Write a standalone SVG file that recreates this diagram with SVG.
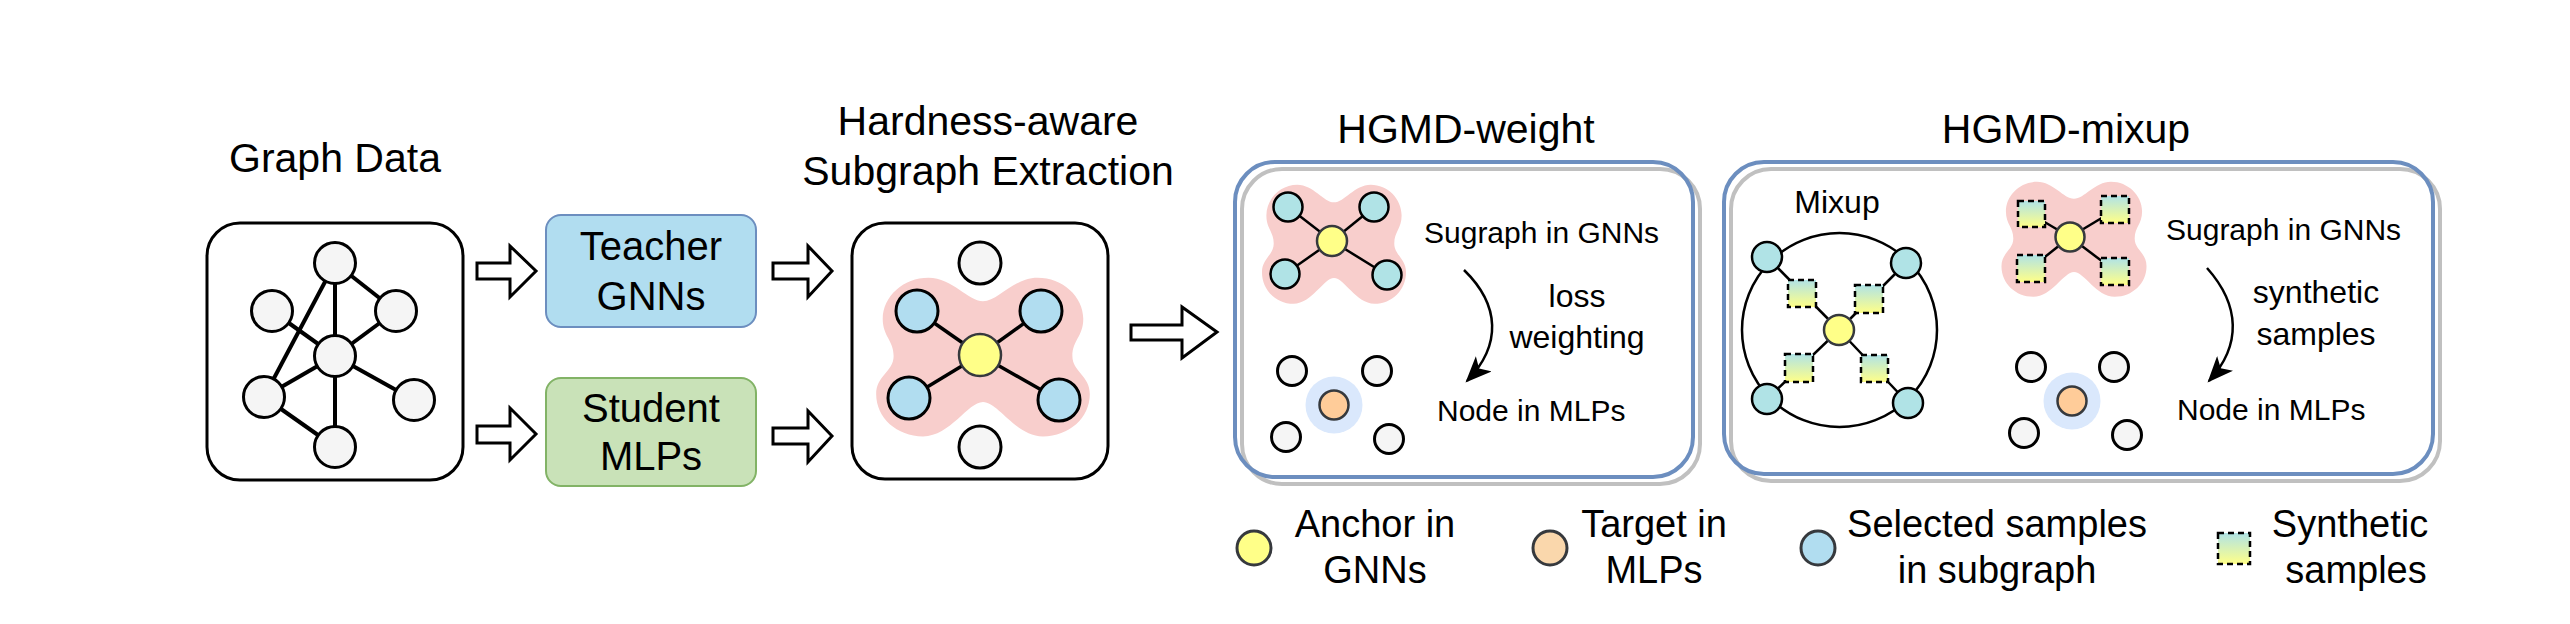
<svg xmlns="http://www.w3.org/2000/svg" width="2570" height="624" viewBox="0 0 2570 624">
<style>
text{font-family:"Liberation Sans",Arial,sans-serif;fill:#000}
.h{font-size:41px;text-anchor:middle}
.m{font-size:40px;text-anchor:middle}
.s{font-size:30px}
.c{font-size:32px;text-anchor:middle}
.lg{font-size:38px;text-anchor:middle}
.frame{fill:none;stroke:#000;stroke-width:3}
.gn{fill:#f5f5f5;stroke:#000;stroke-width:3}
.bn{fill:#b1ddf0;stroke:#000;stroke-width:3}
.tn{fill:#b0e3e6;stroke:#000;stroke-width:2.5}
.yn{fill:#ffff88;stroke:#36393d;stroke-width:2.5}
.on{fill:#ffcc99;stroke:#36393d;stroke-width:2.5}
.halo{fill:#dae8fc}
.blob{fill:#f8cecc}
.e4{stroke:#000;stroke-width:4;fill:none}
.e3{stroke:#000;stroke-width:3.5;fill:none}
.e2{stroke:#000;stroke-width:2.5;fill:none}
.barrow{fill:#fff;stroke:#000;stroke-width:3;stroke-linejoin:miter}
.sq{fill:url(#sg);stroke:#000;stroke-width:2.5;stroke-dasharray:6 4}
.shadow{fill:none;stroke:#c0c0c0;stroke-width:4}
.outer{fill:none;stroke:#6c8ebf;stroke-width:4}
.curve{fill:none;stroke:#000;stroke-width:2.5}
</style>
<defs>
<linearGradient id="sg" x1="0" y1="0" x2="0" y2="1">
<stop offset="0" stop-color="#b0e3e6"/>
<stop offset="1" stop-color="#ffff88"/>
</linearGradient>
<path id="blob" d="M 0,-58 C 14,-58 28,-82 50,-82 C 73,-82 92,-63 92,-40 C 92,-22 82,-18 82,-2 C 82,14 98,18 98,37 C 98,61 79,80 55,80 C 30,80 14,45 0,45 C -14,45 -30,80 -55,80 C -79,80 -98,61 -98,37 C -98,18 -82,14 -82,-2 C -82,-18 -92,-22 -92,-40 C -92,-63 -73,-82 -50,-82 C -28,-82 -14,-58 0,-58 Z"/>
<marker id="ah" viewBox="0 0 12 10" refX="11" refY="5" markerUnits="userSpaceOnUse" markerWidth="26" markerHeight="22" orient="auto">
<path d="M0,0 L12,5 L0,10 L3,5 Z" fill="#000"/>
</marker>
</defs>

<rect width="2570" height="624" fill="#fff"/>

<!-- Graph Data -->
<g id="graph-data">
<text class="h" x="335" y="172">Graph Data</text>
<rect class="frame" x="207" y="223" width="256" height="257" rx="33"/>
<g class="e4">
<line x1="335" y1="263" x2="335" y2="356"/>
<line x1="335" y1="263" x2="396" y2="311"/>
<line x1="335" y1="263" x2="264" y2="397"/>
<line x1="272" y1="311" x2="335" y2="356"/>
<line x1="396" y1="311" x2="335" y2="356"/>
<line x1="335" y1="356" x2="264" y2="397"/>
<line x1="335" y1="356" x2="414" y2="400"/>
<line x1="335" y1="356" x2="335" y2="447"/>
<line x1="264" y1="397" x2="335" y2="447"/>
</g>
<circle class="gn" cx="335" cy="263" r="20.5"/>
<circle class="gn" cx="272" cy="311" r="20.5"/>
<circle class="gn" cx="396" cy="311" r="20.5"/>
<circle class="gn" cx="335" cy="356" r="20.5"/>
<circle class="gn" cx="264" cy="397" r="20.5"/>
<circle class="gn" cx="414" cy="400" r="20.5"/>
<circle class="gn" cx="335" cy="447" r="20.5"/>
</g>

<!-- block arrows (connectors) -->
<g id="connectors">
<polygon class="barrow" points="477,263 510,263 510,246 536,271 510,297 510,279 477,279"/>
<polygon class="barrow" points="477,426 510,426 510,408 536,434 510,460 510,443 477,443"/>
<polygon class="barrow" points="773,263 808,263 808,246 832,271 808,297 808,279 773,279"/>
<polygon class="barrow" points="773,428 808,428 808,411 832,436 808,462 808,444 773,444"/>
<polygon class="barrow" points="1131,325 1182,325 1182,307 1217,332 1182,358 1182,340 1131,340"/>
<polygon class="barrow" points="1953,322 1986,322 1986,305 2010,330 1986,356 1986,339 1953,339"/>
</g>

<!-- Teacher / Student -->
<g id="teacher">
<rect x="546" y="215" width="210" height="112" rx="15" fill="#b1ddf0" stroke="#6c8ebf" stroke-width="2"/>
<text class="m" x="651" y="260">Teacher</text>
<text class="m" x="651" y="310">GNNs</text>
</g>
<g id="student">
<rect x="546" y="378" width="210" height="108" rx="15" fill="#c9e2b8" stroke="#82b366" stroke-width="2"/>
<text class="m" x="651" y="422">Student</text>
<text class="m" x="651" y="470">MLPs</text>
</g>

<!-- Subgraph extraction -->
<g id="extraction">
<text class="h" x="988" y="135">Hardness-aware</text>
<text class="h" x="988" y="185">Subgraph Extraction</text>
<rect class="frame" x="852" y="223" width="256" height="256" rx="33"/>
<use href="#blob" class="blob" transform="translate(983,358) scale(1.09,0.98)"/>
<g class="e3">
<line x1="980" y1="355" x2="917" y2="311"/>
<line x1="980" y1="355" x2="1041" y2="311"/>
<line x1="980" y1="355" x2="909" y2="398"/>
<line x1="980" y1="355" x2="1059" y2="400"/>
</g>
<circle class="gn" cx="980" cy="263" r="21"/>
<circle class="gn" cx="980" cy="447" r="21"/>
<circle class="bn" cx="917" cy="311" r="21"/>
<circle class="bn" cx="1041" cy="311" r="21"/>
<circle class="bn" cx="909" cy="398" r="21"/>
<circle class="bn" cx="1059" cy="400" r="21"/>
<circle class="yn" cx="980" cy="355" r="21" stroke-width="3"/>
</g>

<!-- HGMD-weight -->
<g id="hgmd-weight">
<text class="h" x="1466" y="143">HGMD-weight</text>
<rect x="1235" y="162" width="458" height="315" rx="40" fill="#fff"/>
<rect class="shadow" x="1242" y="169" width="458" height="315" rx="40"/>
<rect class="outer" x="1235" y="162" width="458" height="315" rx="40"/>
<use href="#blob" class="blob" transform="translate(1334,245) scale(0.735,0.735)"/>
<g class="e2">
<line x1="1332" y1="241" x2="1288" y2="207"/>
<line x1="1332" y1="241" x2="1374" y2="207"/>
<line x1="1332" y1="241" x2="1285" y2="274"/>
<line x1="1332" y1="241" x2="1387" y2="275"/>
</g>
<circle class="tn" cx="1288" cy="207" r="14.5"/>
<circle class="tn" cx="1374" cy="207" r="14.5"/>
<circle class="tn" cx="1285" cy="274" r="14.5"/>
<circle class="tn" cx="1387" cy="275" r="14.5"/>
<circle class="yn" cx="1332" cy="241" r="15"/>
<text class="s" x="1424" y="243">Sugraph in GNNs</text>
<path class="curve" d="M 1464,270 C 1500,305 1502,345 1467,381" marker-end="url(#ah)"/>
<text class="c" x="1577" y="307">loss</text>
<text class="c" x="1577" y="348">weighting</text>
<circle class="gn" cx="1292" cy="371" r="14.5" stroke-width="2.5"/>
<circle class="gn" cx="1377" cy="371" r="14.5" stroke-width="2.5"/>
<circle class="gn" cx="1286" cy="437" r="14.5" stroke-width="2.5"/>
<circle class="gn" cx="1389" cy="439" r="14.5" stroke-width="2.5"/>
<circle class="halo" cx="1334" cy="405" r="28.5"/>
<circle class="on" cx="1334" cy="405" r="14.5"/>
<text class="s" x="1437" y="421">Node in MLPs</text>
</g>

<!-- HGMD-mixup -->
<g id="hgmd-mixup">
<text class="h" x="2066" y="143">HGMD-mixup</text>
<rect x="1724" y="162" width="709" height="312" rx="40" fill="#fff"/>
<rect class="shadow" x="1731" y="169" width="709" height="312" rx="40"/>
<rect class="outer" x="1724" y="162" width="709" height="312" rx="40"/>
<text class="c" x="1837" y="213">Mixup</text>
<ellipse cx="1839.5" cy="330" rx="97.5" ry="97" fill="none" stroke="#000" stroke-width="2.5"/>
<g class="e2">
<line x1="1767" y1="257" x2="1839" y2="330"/>
<line x1="1906" y1="263" x2="1839" y2="330"/>
<line x1="1767" y1="399" x2="1839" y2="330"/>
<line x1="1908" y1="403" x2="1839" y2="330"/>
</g>
<circle class="tn" cx="1767" cy="257" r="15"/>
<circle class="tn" cx="1906" cy="263" r="15"/>
<circle class="tn" cx="1767" cy="399" r="15"/>
<circle class="tn" cx="1908" cy="403" r="15"/>
<rect class="sq" x="1788" y="280" width="28" height="27"/>
<rect class="sq" x="1855" y="285" width="28" height="28"/>
<rect class="sq" x="1785" y="354" width="28" height="28"/>
<rect class="sq" x="1861" y="355" width="27" height="27"/>
<circle class="yn" cx="1839" cy="330" r="15"/>

<use href="#blob" class="blob" transform="translate(2074,240) scale(0.74,0.71)"/>
<g class="e2">
<line x1="2070" y1="237" x2="2031" y2="214"/>
<line x1="2070" y1="237" x2="2115" y2="210"/>
<line x1="2070" y1="237" x2="2031" y2="268"/>
<line x1="2070" y1="237" x2="2115" y2="271"/>
</g>
<rect class="sq" x="2018" y="201" width="27" height="26"/>
<rect class="sq" x="2101" y="196" width="28" height="27"/>
<rect class="sq" x="2017" y="255" width="28" height="27"/>
<rect class="sq" x="2101" y="258" width="28" height="27"/>
<circle class="yn" cx="2070" cy="237" r="14.5"/>
<text class="s" x="2166" y="240">Sugraph in GNNs</text>
<path class="curve" d="M 2207,268 C 2240,305 2242,345 2209,381" marker-end="url(#ah)"/>
<text class="c" x="2316" y="303">synthetic</text>
<text class="c" x="2316" y="345">samples</text>
<circle class="gn" cx="2031" cy="367" r="14.5" stroke-width="2.5"/>
<circle class="gn" cx="2114" cy="367" r="14.5" stroke-width="2.5"/>
<circle class="gn" cx="2024" cy="433" r="14.5" stroke-width="2.5"/>
<circle class="gn" cx="2127" cy="435" r="14.5" stroke-width="2.5"/>
<circle class="halo" cx="2072" cy="401" r="28.5"/>
<circle class="on" cx="2072" cy="401" r="14.5"/>
<text class="s" x="2177" y="420">Node in MLPs</text>
</g>

<!-- Legend -->
<g id="legend-anchor">
<circle cx="1254" cy="548" r="17" fill="#ffff88" stroke="#36393d" stroke-width="3"/>
<text class="lg" x="1375" y="537">Anchor in</text>
<text class="lg" x="1375" y="583">GNNs</text>
</g>
<g id="legend-target">
<circle cx="1550" cy="548" r="17" fill="#fad7ac" stroke="#36393d" stroke-width="3"/>
<text class="lg" x="1654" y="537">Target in</text>
<text class="lg" x="1654" y="583">MLPs</text>
</g>
<g id="legend-selected">
<circle cx="1818" cy="548" r="17" fill="#b1ddf0" stroke="#36393d" stroke-width="3"/>
<text class="lg" x="1997" y="537">Selected samples</text>
<text class="lg" x="1997" y="583">in subgraph</text>
</g>
<g id="legend-synthetic">
<rect class="sq" x="2218" y="533" width="32" height="31"/>
<text class="lg" x="2350" y="537">Synthetic</text>
<text class="lg" x="2356" y="583">samples</text>
</g>
</svg>
